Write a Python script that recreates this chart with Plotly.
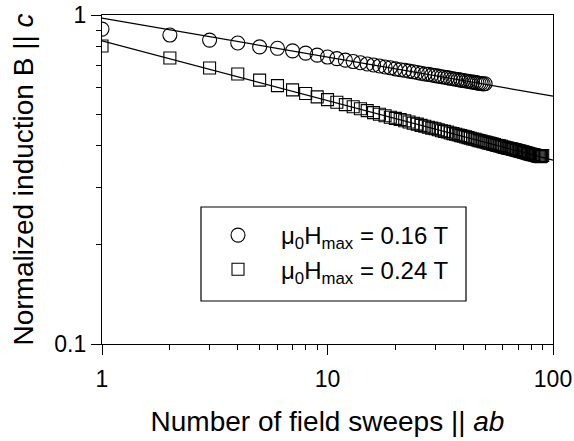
import plotly.graph_objects as go

# ---- data ----
sweeps_low = list(range(1, 51))
induction_low = [
    0.906, 0.869, 0.839, 0.822, 0.800, 0.792, 0.778, 0.766, 0.755, 0.745,
    0.737, 0.729, 0.722, 0.716, 0.710, 0.705, 0.700, 0.695, 0.691, 0.686,
    0.682, 0.679, 0.675, 0.672, 0.669, 0.665, 0.662, 0.660, 0.657, 0.654,
    0.652, 0.649, 0.647, 0.645, 0.642, 0.640, 0.638, 0.636, 0.634, 0.632,
    0.630, 0.629, 0.627, 0.625, 0.624, 0.622, 0.620, 0.619, 0.617, 0.618,
]

sweeps_high = list(range(1, 91))
induction_high = [
    0.805, 0.740, 0.690, 0.662, 0.634, 0.610, 0.592, 0.577, 0.564, 0.553,
    0.543, 0.534, 0.526, 0.519, 0.512, 0.505, 0.499, 0.494, 0.489, 0.485,
    0.481, 0.477, 0.473, 0.469, 0.466, 0.462, 0.459, 0.456, 0.453, 0.451,
    0.448, 0.445, 0.443, 0.441, 0.438, 0.436, 0.434, 0.432, 0.430, 0.428,
    0.426, 0.424, 0.422, 0.420, 0.419, 0.417, 0.415, 0.414, 0.412, 0.411,
    0.409, 0.408, 0.407, 0.405, 0.404, 0.402, 0.401, 0.400, 0.399, 0.397,
    0.396, 0.395, 0.394, 0.393, 0.392, 0.391, 0.390, 0.389, 0.388, 0.387,
    0.386, 0.385, 0.384, 0.383, 0.382, 0.381, 0.380, 0.379, 0.378, 0.377,
    0.376, 0.376, 0.375, 0.374, 0.373, 0.372, 0.372, 0.371, 0.372, 0.374,
]

# power-law fit lines (straight on log-log axes), endpoints
fit_x = [1, 100]
fit_low = [0.979, 0.567]
fit_high = [0.834, 0.362]

legend_low = "μ<sub>0</sub>H<sub>max</sub> = 0.16 T"
legend_high = "μ<sub>0</sub>H<sub>max</sub> = 0.24 T"

x_major = [1, 10, 100]
x_minor = [2, 3, 4, 5, 6, 7, 8, 9, 20, 30, 40, 50, 60, 70, 80, 90]
y_major = [0.1, 1]
y_minor = [0.2, 0.3, 0.4, 0.5, 0.6, 0.7, 0.8, 0.9]

FONT = "Liberation Sans, Arial, sans-serif"

fig = go.Figure()

fig.add_trace(go.Scatter(
    x=fit_x, y=fit_low, mode="lines",
    line=dict(color="black", width=1.2), showlegend=False, hoverinfo="skip"))
fig.add_trace(go.Scatter(
    x=fit_x, y=fit_high, mode="lines",
    line=dict(color="black", width=1.2), showlegend=False, hoverinfo="skip"))

fig.add_trace(go.Scatter(
    x=sweeps_low, y=induction_low, mode="markers", name=legend_low,
    legendgroup="low",
    marker=dict(symbol="circle-open", size=14, color="black",
                line=dict(width=1.1, color="black"))))
fig.add_trace(go.Scatter(
    x=sweeps_high, y=induction_high, mode="markers", name=legend_high,
    legendgroup="high",
    marker=dict(symbol="square-open", size=12, color="black",
                line=dict(width=1.1, color="black"))))

axis_common = dict(
    type="log",
    automargin=False,
    showgrid=False,
    zeroline=False,
    showline=True,
    linecolor="black",
    linewidth=1.2,
    mirror=True,
    ticks="outside",
    ticklen=10,
    tickwidth=1.2,
    tickcolor="black",
    tickfont=dict(family=FONT, size=23, color="black"),
)

fig.update_xaxes(
    **axis_common,
    range=[0, 2],
    tickmode="array", tickvals=x_major, ticktext=[str(v) for v in x_major],
    ticklabelstandoff=4,
    minor=dict(tickmode="array", tickvals=x_minor, ticks="outside",
               ticklen=5, tickwidth=1.2, tickcolor="black", showgrid=False),
    title=dict(text="Number of field sweeps || <i>ab</i>",
               font=dict(family=FONT, size=28, color="black"), standoff=20),
)
fig.update_yaxes(
    **axis_common,
    range=[-1, 0],
    tickmode="array", tickvals=y_major, ticktext=["0.1", "1"],
    minor=dict(tickmode="array", tickvals=y_minor, ticks="outside",
               ticklen=5, tickwidth=1.2, tickcolor="black", showgrid=False),
    title=dict(text="Normalized induction B || <i>c</i>",
               font=dict(family=FONT, size=28, color="black"), standoff=12),
)

# legend frame (paper coordinates of the plot area)
fig.add_shape(type="rect", xref="paper", yref="paper",
              x0=0.2195, x1=0.8071, y0=0.1307, y1=0.4164,
              line=dict(color="black", width=1.2), fillcolor="white",
              layer="below")

fig.update_layout(
    width=574, height=441,
    margin=dict(l=102, r=21, t=15, b=97),
    paper_bgcolor="white",
    plot_bgcolor="white",
    font=dict(family=FONT, color="black"),
    showlegend=True,
    legend=dict(
        x=0.2062, y=0.3982, xanchor="left", yanchor="top",
        bgcolor="rgba(0,0,0,0)", borderwidth=0,
        font=dict(family=FONT, size=24, color="black"),
        itemwidth=76,
        tracegroupgap=0,
    ),
)

fig.write_html("out.html")
